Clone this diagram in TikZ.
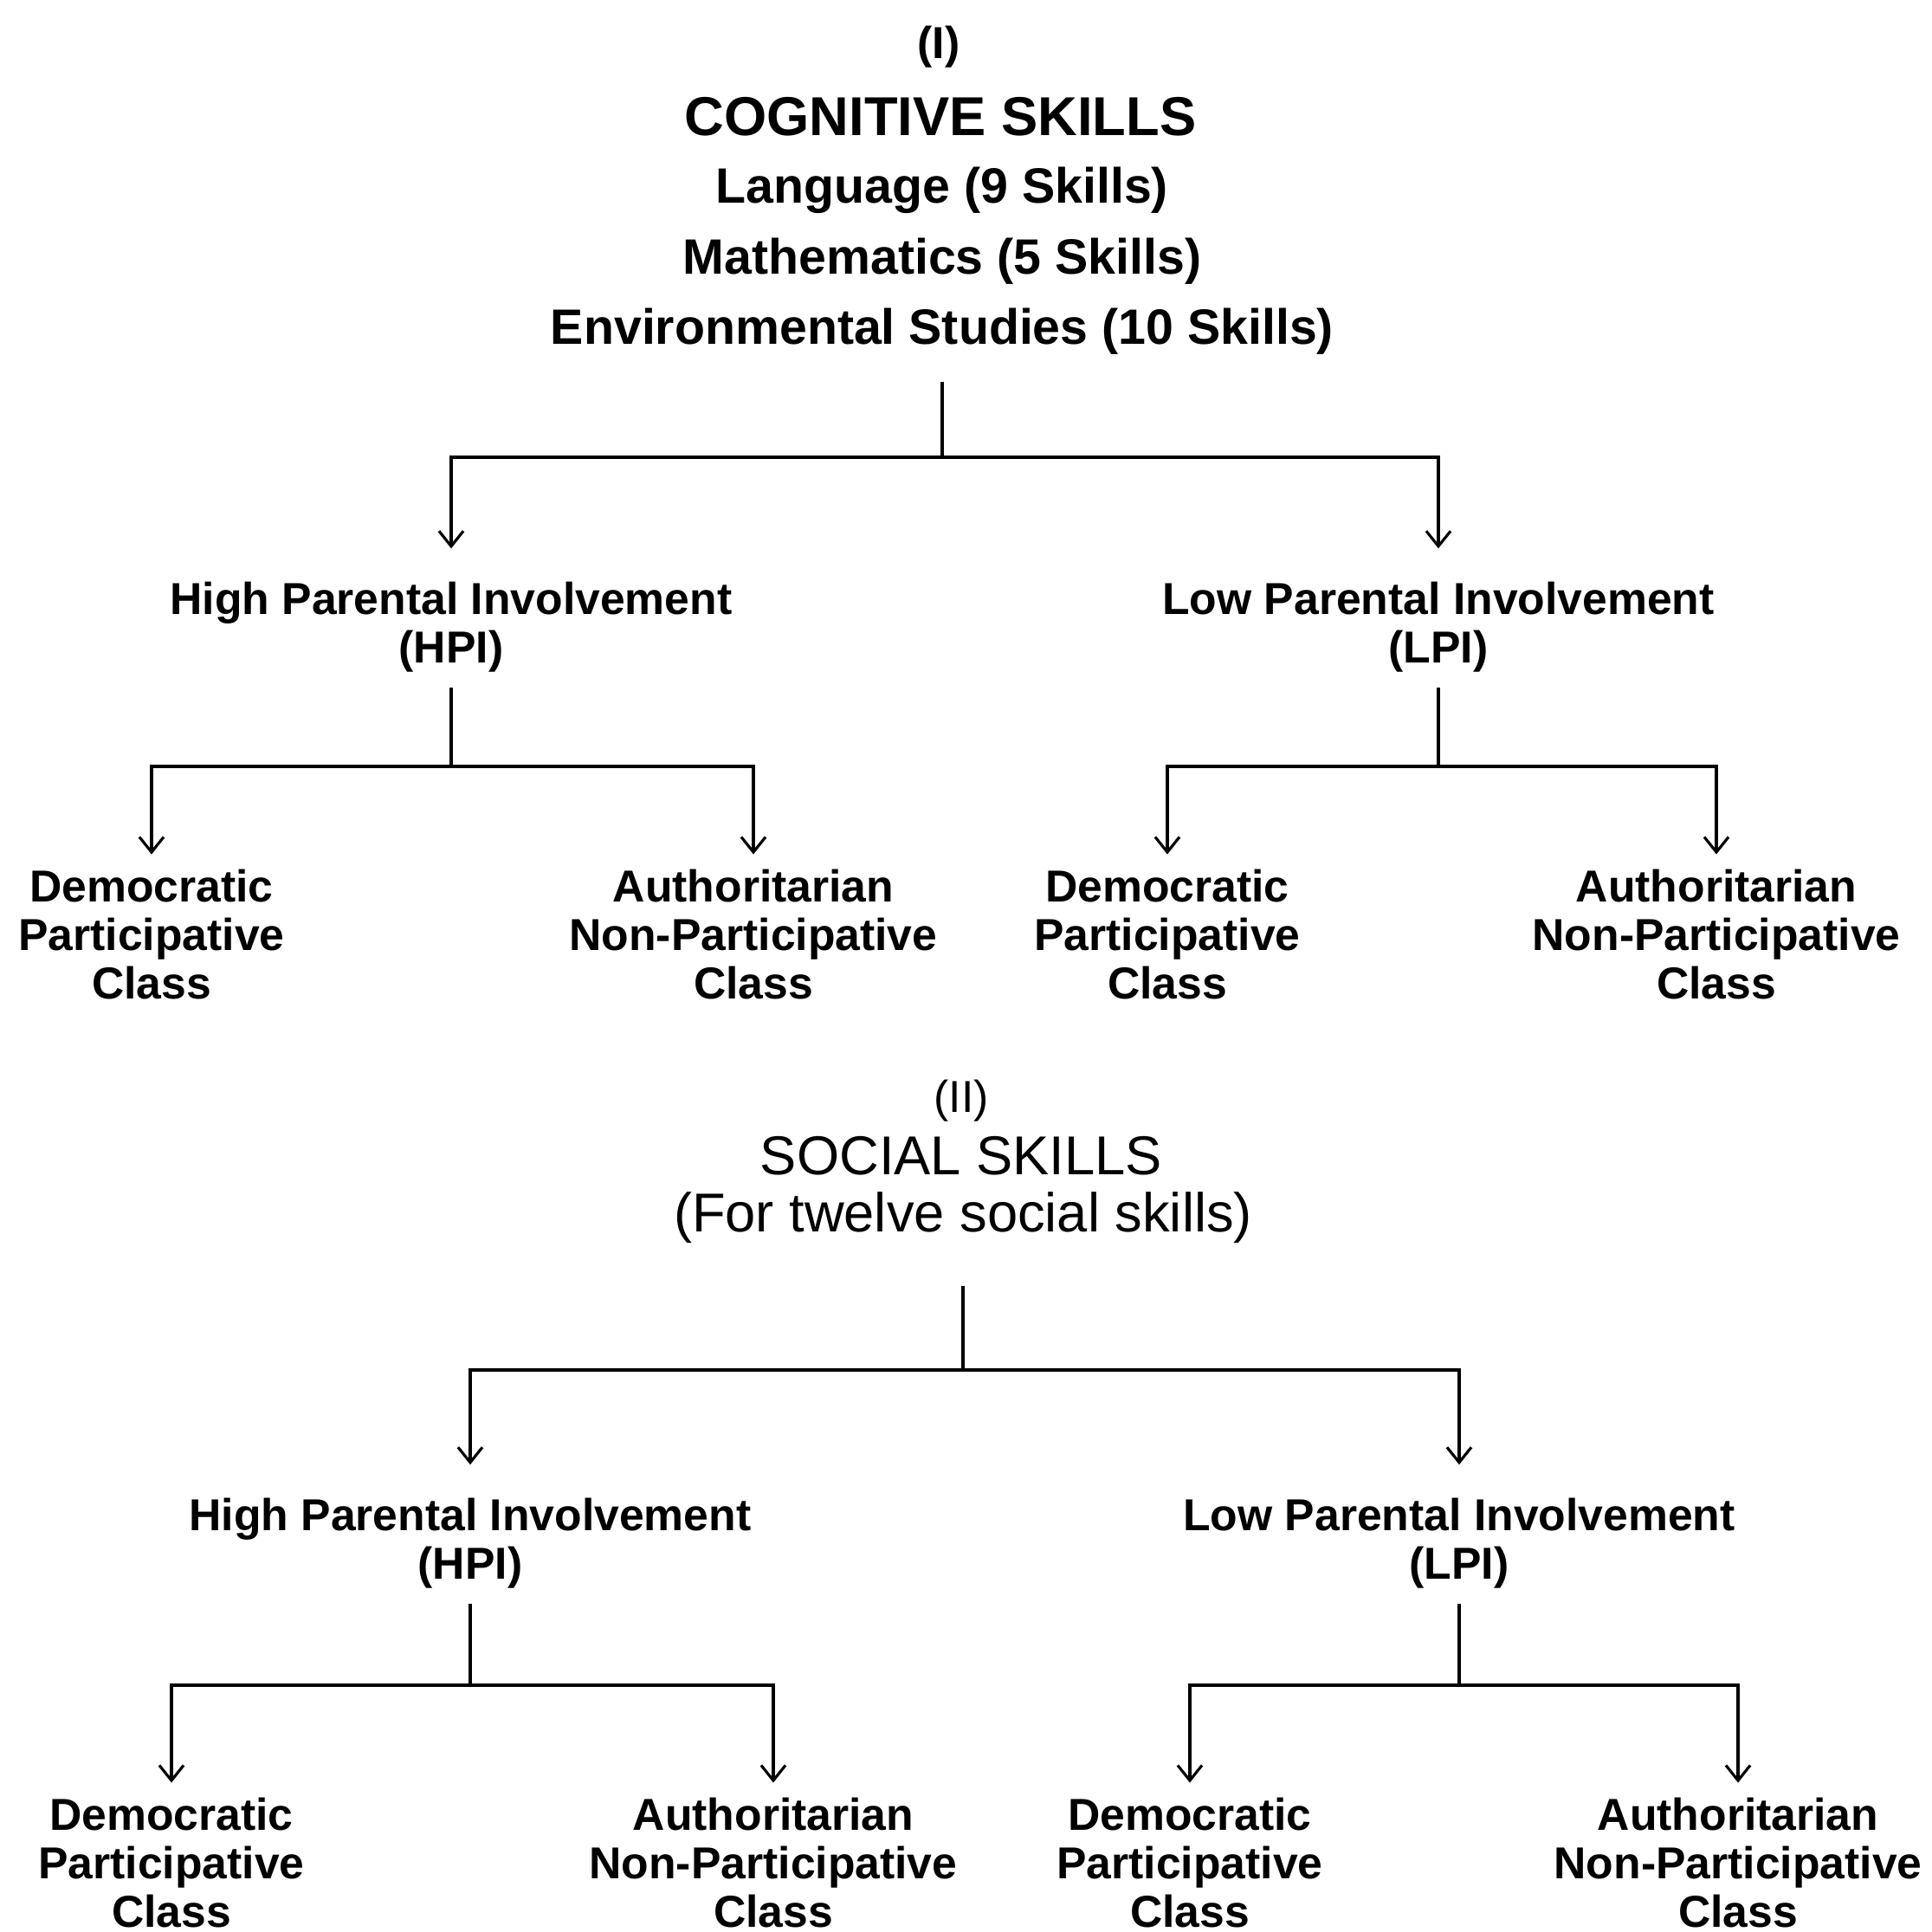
\documentclass[tikz,border=0pt]{standalone}
\usepackage{fontspec}
\setmainfont{Liberation Sans}
\usetikzlibrary{arrows.meta}
\tikzstyle{title}=[font=\bfseries\fontsize{18}{20}\selectfont, inner sep=0pt, outer sep=5pt]
\tikzstyle{subtitle}=[font=\fontsize{18}{20}\selectfont, inner sep=0pt, outer sep=5pt]
\tikzstyle{skill}=[font=\bfseries\fontsize{16.3}{18}\selectfont, inner sep=0pt, outer sep=5pt]
\tikzstyle{level}=[font=\bfseries\fontsize{14.7}{15.9}\selectfont, align=center, inner sep=0pt, outer sep=5pt]
\tikzstyle{branch}=[->, shorten >=6pt]

\begin{document}
\begin{tikzpicture}[line width=0.9pt, >={Straight Barb[length=5pt,width=8pt]}]
\useasboundingbox (0,0) rectangle (22.31,-22.31);
% (I) cognitive skills
\draw (10.84,-0.54) node[level] (num1) {(I)};
\draw (10.86,-1.35) node[title] (cog) {COGNITIVE SKILLS};
\draw (10.88,-2.20) node[skill] (lang) {Language (9 Skills)};
\draw (10.88,-3.02) node[skill] (math) {Mathematics (5 Skills)};
\draw (10.88,-3.83) node[skill] (env) {Environmental Studies (10 Skills)};
\coordinate (f1) at (10.88,-5.28);
\draw (5.21,-7.24) node[level] (hpi1) {High Parental Involvement\\(HPI)};
\draw (16.61,-7.24) node[level] (lpi1) {Low Parental Involvement\\(LPI)};
\coordinate (f2) at (5.21,-8.85);
\coordinate (f3) at (16.61,-8.85);
\draw (1.75,-10.79) node[level] (dem1) {Democratic\\Participative\\Class};
\draw (8.70,-10.79) node[level] (auth1) {Authoritarian\\Non-Participative\\Class};
\draw (13.48,-10.79) node[level] (dem2) {Democratic\\Participative\\Class};
\draw (19.82,-10.79) node[level] (auth2) {Authoritarian\\Non-Participative\\Class};

\draw[shorten <=4pt] (env) -- (f1);
\draw[branch] (f1) -| (hpi1);
\draw[branch] (f1) -| (lpi1);
\draw (hpi1) -- (f2);
\draw (lpi1) -- (f3);
\draw[->] (f2) -| (dem1);
\draw[->] (f2) -| (auth1);
\draw[->] (f3) -| (dem2);
\draw[->] (f3) -| (auth2);

% (II) social skills
\draw (11.10,-12.71) node[subtitle, font=\fontsize{14.7}{16}\selectfont] (num2) {(II)};
\draw (11.10,-13.35) node[subtitle] (soc) {SOCIAL SKILLS};
\draw (11.12,-14.06) node[subtitle] (twelve) {(For twelve social skills)};
\coordinate (f4) at (11.12,-15.82);
\draw (5.43,-17.82) node[level] (hpi2) {High Parental Involvement\\(HPI)};
\draw (16.85,-17.82) node[level] (lpi2) {Low Parental Involvement\\(LPI)};
\coordinate (f5) at (5.43,-19.46);
\coordinate (f6) at (16.85,-19.46);
\draw (1.98,-21.51) node[level] (dem3) {Democratic\\Participative\\Class};
\draw (8.93,-21.51) node[level] (auth3) {Authoritarian\\Non-Participative\\Class};
\draw (13.74,-21.51) node[level] (dem4) {Democratic\\Participative\\Class};
\draw (20.07,-21.51) node[level] (auth4) {Authoritarian\\Non-Participative\\Class};

\draw[shorten <=9pt] (twelve) -- (f4);
\draw[branch] (f4) -| (hpi2);
\draw[branch] (f4) -| (lpi2);
\draw (hpi2) -- (f5);
\draw (lpi2) -- (f6);
\draw[->] (f5) -| (dem3);
\draw[->] (f5) -| (auth3);
\draw[->] (f6) -| (dem4);
\draw[->] (f6) -| (auth4);
\end{tikzpicture}
\end{document}
